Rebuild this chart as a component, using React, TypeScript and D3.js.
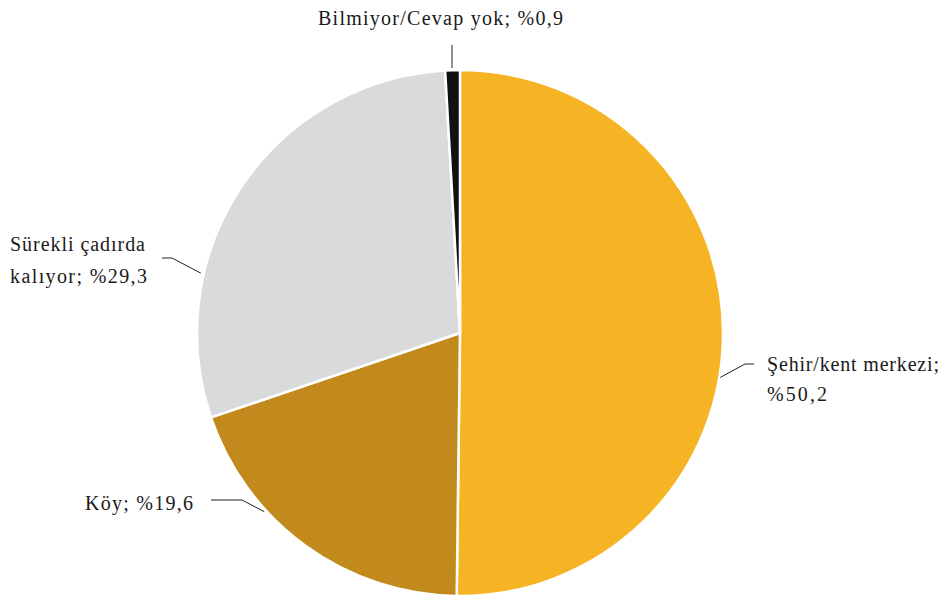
import React from "react";
import * as d3 from "d3";

const categories = ["Şehir/kent merkezi", "Köy", "Sürekli çadırda kalıyor", "Bilmiyor/Cevap yok"];
const values = [50.2, 19.6, 29.3, 0.9];
const valueLabels = ["%50,2", "%19,6", "%29,3", "%0,9"];
const colors = ["#F6B324", "#C28A1D", "#D9DADB", "#111111"];

const W = 945, H = 595;
const cx = 460, cy = 333, r = 263;

function pt(deg: number, rr: number): [number, number] {
  const a = (deg * Math.PI) / 180;
  return [cx + rr * Math.sin(a), cy - rr * Math.cos(a)];
}

function Label(props: { x: number; y: number; w: number; anchor?: string; children: React.ReactNode }) {
  return (
    <text
      x={props.x}
      y={props.y}
      textAnchor={props.anchor || "start"}
      fontFamily="Liberation Serif"
      fontSize={20}
      textLength={props.w}
      lengthAdjust="spacing"
      fill="#1a1a1a"
    >
      {props.children}
    </text>
  );
}

export default function App() {
  const pie = d3.pie<number>().sort(null).value((d) => d);
  const arcs = pie(values);
  const arc = d3.arc<d3.PieArcDatum<number>>().innerRadius(0).outerRadius(r);
  const s0 = pt(99.7, r + 1);
  const s1 = pt(227.6, r + 2);
  const s2 = pt(283, r + 3);
  return (
    <svg width={W} height={H} style={{ position: "absolute", left: 0, top: 0, background: "#fff" }}>
      <g transform={`translate(${cx},${cy})`}>
        {arcs.map((a, i) => (
          <path key={i} d={arc(a) || ""} fill={colors[i]} stroke="#fff" strokeWidth={2.5} strokeLinejoin="round" />
        ))}
      </g>
      <g stroke="#222" strokeWidth={1} fill="none">
        <polyline points={`${s0[0]},${s0[1]} 745,364 754,364`} />
        <polyline points={`${s1[0]},${s1[1]} 242,500 211,500`} />
        <polyline points={`${s2[0]},${s2[1]} 172,258 162,258`} />
        <line x1={452} x2={452} y1={45} y2={68} />
      </g>
      <Label x={767} y={371} w={172}>{categories[0] + ";"}</Label>
      <Label x={767} y={401} w={60}>{valueLabels[0]}</Label>
      <Label x={85} y={510} w={108}>{`${categories[1]}; ${valueLabels[1]}`}</Label>
      <Label x={10} y={251} w={135}>Sürekli çadırda</Label>
      <Label x={10} y={283} w={137}>{`kalıyor; ${valueLabels[2]}`}</Label>
      <Label x={318} y={25} w={245}>{`${categories[3]}; ${valueLabels[3]}`}</Label>
    </svg>
  );
}
